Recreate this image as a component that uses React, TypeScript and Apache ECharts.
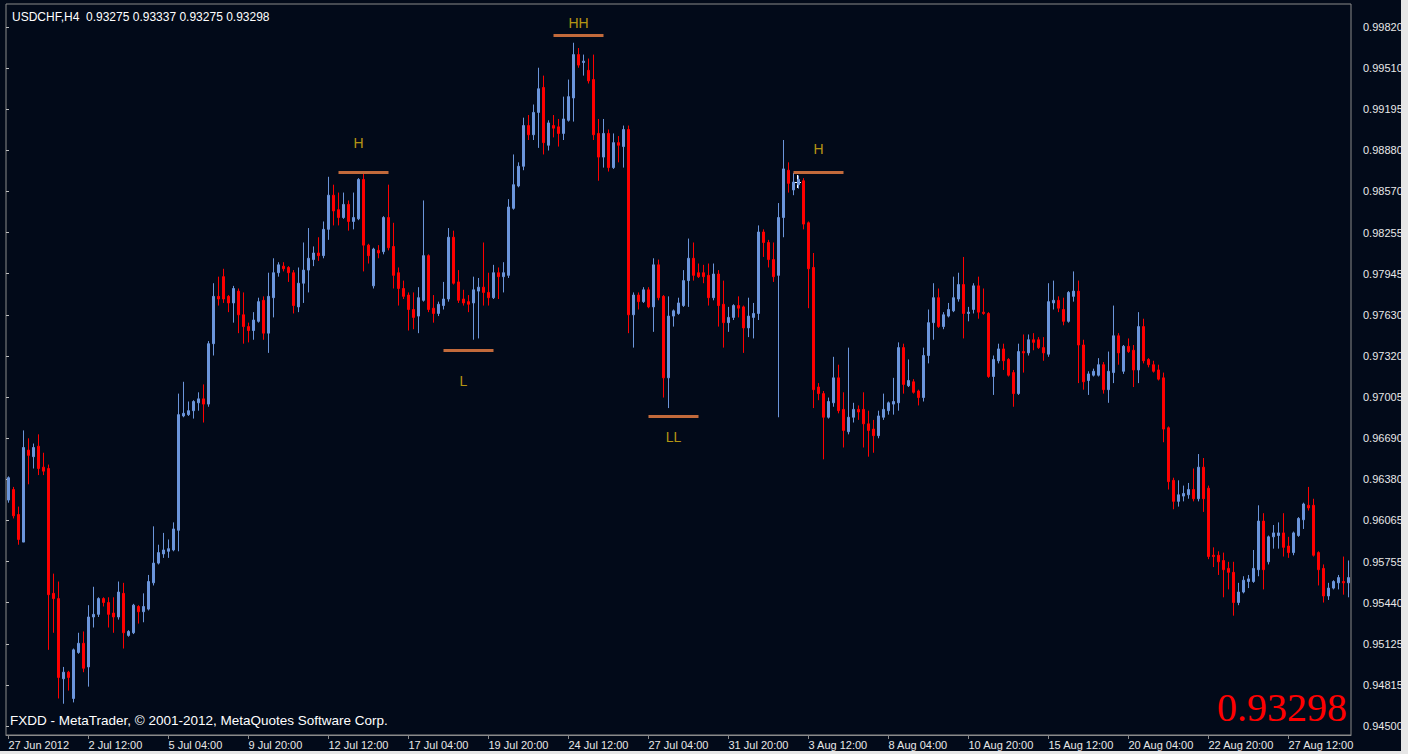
import React, { useEffect, useRef } from "react";
import * as echarts from "echarts";

// [open, close, low, high] per H4 candle, from 27 Jun 2012 20:00
const ohlc: number[][] = [
  [0.9622,0.9639,0.9620,0.9640],[0.9630,0.9610,0.9608,0.9632],[0.9611,0.9592,0.9588,0.9617],[0.9590,0.9662,0.9590,0.9675],
  [0.9660,0.9656,0.9634,0.9669],[0.9655,0.9662,0.9646,0.9665],[0.9663,0.9646,0.9641,0.9672],[0.9647,0.9644,0.9641,0.9658],
  [0.9646,0.9550,0.9508,0.9649],[0.9551,0.9547,0.9521,0.9566],[0.9547,0.9487,0.9471,0.9560],[0.9486,0.9491,0.9467,0.9495],
  [0.9491,0.9487,0.9477,0.9492],[0.9471,0.9508,0.9468,0.9509],[0.9506,0.9513,0.9505,0.9521],[0.9513,0.9494,0.9491,0.9522],
  [0.9495,0.9533,0.9480,0.9542],[0.9533,0.9535,0.9525,0.9556],[0.9535,0.9547,0.9533,0.9548],[0.9547,0.9544,0.9541,0.9548],
  [0.9544,0.9535,0.9525,0.9548],[0.9536,0.9533,0.9521,0.9548],[0.9533,0.9552,0.9531,0.9560],[0.9551,0.9521,0.9509,0.9559],
  [0.9519,0.9522,0.9518,0.9523],[0.9521,0.9542,0.9520,0.9543],[0.9541,0.9537,0.9528,0.9542],[0.9537,0.9541,0.9529,0.9551],
  [0.9539,0.9560,0.9538,0.9565],[0.9559,0.9574,0.9557,0.9602],[0.9574,0.9582,0.9573,0.9588],[0.9581,0.9584,0.9578,0.9597],
  [0.9583,0.9585,0.9578,0.9592],[0.9584,0.9600,0.9583,0.9605],[0.9599,0.9687,0.9583,0.9703],[0.9686,0.9688,0.9685,0.9712],
  [0.9687,0.9690,0.9686,0.9697],[0.9690,0.9697,0.9684,0.9698],[0.9696,0.9699,0.9690,0.9704],[0.9699,0.9695,0.9681,0.9710],
  [0.9695,0.9741,0.9693,0.9743],[0.9741,0.9777,0.9732,0.9787],[0.9777,0.9775,0.9770,0.9792],[0.9792,0.9775,0.9772,0.9798],
  [0.9777,0.9772,0.9765,0.9778],[0.9772,0.9783,0.9757,0.9785],[0.9781,0.9763,0.9749,0.9783],[0.9763,0.9754,0.9741,0.9780],
  [0.9754,0.9751,0.9742,0.9757],[0.9751,0.9759,0.9744,0.9765],[0.9758,0.9773,0.9757,0.9776],[0.9774,0.9749,0.9744,0.9777],
  [0.9749,0.9777,0.9734,0.9795],[0.9776,0.9795,0.9761,0.9806],[0.9795,0.9801,0.9792,0.9803],[0.9800,0.9798,0.9796,0.9803],
  [0.9799,0.9795,0.9788,0.9800],[0.9795,0.9770,0.9764,0.9797],[0.9769,0.9787,0.9765,0.9799],[0.9787,0.9797,0.9772,0.9818],
  [0.9797,0.9806,0.9780,0.9829],[0.9805,0.9810,0.9800,0.9815],[0.9810,0.9808,0.9804,0.9822],[0.9808,0.9828,0.9806,0.9834],
  [0.9828,0.9854,0.9820,0.9868],[0.9854,0.9842,0.9831,0.9862],[0.9843,0.9837,0.9831,0.9856],[0.9837,0.9847,0.9836,0.9856],
  [0.9847,0.9834,0.9827,0.9850],[0.9834,0.9837,0.9828,0.9856],[0.9836,0.9866,0.9835,0.9867],[0.9866,0.9816,0.9796,0.9871],
  [0.9816,0.9808,0.9802,0.9817],[0.9785,0.9813,0.9783,0.9814],[0.9812,0.9810,0.9806,0.9816],[0.9811,0.9837,0.9809,0.9838],
  [0.9837,0.9814,0.9812,0.9862],[0.9815,0.9793,0.9783,0.9833],[0.9795,0.9783,0.9770,0.9799],[0.9783,0.9777,0.9775,0.9789],
  [0.9778,0.9767,0.9751,0.9780],[0.9767,0.9761,0.9752,0.9780],[0.9762,0.9776,0.9749,0.9784],[0.9774,0.9808,0.9773,0.9850],
  [0.9808,0.9767,0.9765,0.9809],[0.9768,0.9764,0.9757,0.9778],[0.9764,0.9771,0.9762,0.9773],[0.9770,0.9775,0.9767,0.9788],
  [0.9775,0.9822,0.9773,0.9829],[0.9822,0.9787,0.9786,0.9827],[0.9788,0.9774,0.9772,0.9797],[0.9775,0.9772,0.9770,0.9782],
  [0.9773,0.9771,0.9765,0.9778],[0.9772,0.9782,0.9744,0.9792],[0.9781,0.9784,0.9745,0.9791],[0.9784,0.9780,0.9770,0.9818],
  [0.9780,0.9776,0.9770,0.9795],[0.9776,0.9795,0.9775,0.9801],[0.9795,0.9792,0.9775,0.9799],[0.9792,0.9795,0.9780,0.9803],
  [0.9793,0.9845,0.9791,0.9851],[0.9844,0.9862,0.9843,0.9885],[0.9861,0.9876,0.9860,0.9879],[0.9876,0.9907,0.9873,0.9913],
  [0.9907,0.9900,0.9896,0.9915],[0.9900,0.9917,0.9896,0.9923],[0.9917,0.9935,0.9890,0.9951],[0.9936,0.9894,0.9885,0.9945],
  [0.9892,0.9909,0.9888,0.9911],[0.9907,0.9905,0.9898,0.9915],[0.9906,0.9901,0.9891,0.9912],[0.9901,0.9912,0.9896,0.9929],
  [0.9911,0.9929,0.9910,0.9942],[0.9928,0.9961,0.9910,0.9970],[0.9961,0.9953,0.9951,0.9966],[0.9955,0.9956,0.9945,0.9961],
  [0.9949,0.9941,0.9939,0.9958],[0.9942,0.9900,0.9896,0.9961],[0.9901,0.9883,0.9865,0.9912],[0.9883,0.9901,0.9875,0.9912],
  [0.9901,0.9875,0.9872,0.9904],[0.9875,0.9894,0.9874,0.9901],[0.9894,0.9892,0.9879,0.9899],[0.9891,0.9904,0.9875,0.9907],
  [0.9904,0.9763,0.9749,0.9907],[0.9763,0.9778,0.9738,0.9780],[0.9778,0.9773,0.9767,0.9780],[0.9773,0.9782,0.9772,0.9784],
  [0.9782,0.9769,0.9768,0.9784],[0.9769,0.9801,0.9750,0.9806],[0.9801,0.9776,0.9774,0.9805],[0.9777,0.9715,0.9700,0.9778],
  [0.9715,0.9762,0.9692,0.9777],[0.9762,0.9766,0.9754,0.9767],[0.9764,0.9772,0.9763,0.9776],[0.9770,0.9789,0.9769,0.9797],
  [0.9789,0.9806,0.9769,0.9821],[0.9806,0.9793,0.9789,0.9818],[0.9795,0.9792,0.9791,0.9802],[0.9795,0.9792,0.9787,0.9801],
  [0.9793,0.9776,0.9770,0.9802],[0.9776,0.9794,0.9774,0.9802],[0.9794,0.9770,0.9754,0.9797],[0.9771,0.9757,0.9738,0.9789],
  [0.9757,0.9761,0.9750,0.9769],[0.9761,0.9770,0.9759,0.9771],[0.9770,0.9768,0.9761,0.9777],[0.9769,0.9753,0.9734,0.9770],
  [0.9753,0.9762,0.9746,0.9776],[0.9761,0.9764,0.9745,0.9772],[0.9764,0.9826,0.9759,0.9831],[0.9826,0.9818,0.9807,0.9828],
  [0.9818,0.9805,0.9799,0.9820],[0.9805,0.9792,0.9788,0.9818],[0.9793,0.9837,0.9685,0.9848],[0.9837,0.9874,0.9822,0.9896],
  [0.9873,0.9863,0.9856,0.9879],[0.9858,0.9864,0.9854,0.9871],[0.9862,0.9866,0.9859,0.9869],[0.9865,0.9832,0.9828,0.9867],
  [0.9833,0.9798,0.9768,0.9834],[0.9799,0.9706,0.9692,0.9810],[0.9708,0.9703,0.9698,0.9711],[0.9703,0.9685,0.9653,0.9705],
  [0.9685,0.9697,0.9684,0.9700],[0.9696,0.9715,0.9693,0.9731],[0.9715,0.9690,0.9688,0.9725],[0.9691,0.9675,0.9662,0.9704],
  [0.9674,0.9685,0.9672,0.9738],[0.9685,0.9691,0.9681,0.9696],[0.9691,0.9689,0.9683,0.9694],[0.9691,0.9680,0.9662,0.9704],
  [0.9680,0.9675,0.9655,0.9690],[0.9676,0.9671,0.9658,0.9683],[0.9671,0.9686,0.9669,0.9690],[0.9685,0.9691,0.9683,0.9703],
  [0.9690,0.9696,0.9687,0.9697],[0.9695,0.9697,0.9687,0.9715],[0.9696,0.9738,0.9690,0.9742],[0.9738,0.9710,0.9703,0.9741],
  [0.9709,0.9713,0.9708,0.9729],[0.9712,0.9704,0.9703,0.9714],[0.9705,0.9700,0.9694,0.9706],[0.9700,0.9732,0.9697,0.9738],
  [0.9732,0.9757,0.9726,0.9767],[0.9757,0.9776,0.9744,0.9787],[0.9776,0.9754,0.9753,0.9783],[0.9754,0.9763,0.9752,0.9765],
  [0.9762,0.9767,0.9761,0.9772],[0.9766,0.9776,0.9765,0.9792],[0.9775,0.9786,0.9773,0.9795],[0.9786,0.9764,0.9745,0.9807],
  [0.9764,0.9765,0.9758,0.9769],[0.9767,0.9785,0.9764,0.9787],[0.9785,0.9765,0.9760,0.9792],[0.9765,0.9764,0.9763,0.9783],
  [0.9764,0.9716,0.9715,0.9765],[0.9716,0.9729,0.9702,0.9732],[0.9728,0.9737,0.9726,0.9741],[0.9737,0.9728,0.9721,0.9741],
  [0.9729,0.9717,0.9716,0.9730],[0.9719,0.9703,0.9693,0.9721],[0.9703,0.9735,0.9702,0.9741],[0.9735,0.9734,0.9719,0.9748],
  [0.9734,0.9744,0.9732,0.9748],[0.9744,0.9742,0.9736,0.9749],[0.9744,0.9738,0.9737,0.9746],[0.9738,0.9734,0.9728,0.9746],
  [0.9733,0.9773,0.9731,0.9787],[0.9772,0.9774,0.9767,0.9789],[0.9774,0.9768,0.9765,0.9777],[0.9767,0.9758,0.9755,0.9776],
  [0.9758,0.9780,0.9757,0.9781],[0.9777,0.9781,0.9773,0.9796],[0.9781,0.9740,0.9711,0.9789],[0.9740,0.9712,0.9706,0.9744],
  [0.9713,0.9718,0.9702,0.9720],[0.9717,0.9720,0.9716,0.9722],[0.9717,0.9725,0.9716,0.9730],[0.9725,0.9706,0.9703,0.9727],
  [0.9706,0.9720,0.9696,0.9735],[0.9719,0.9747,0.9711,0.9770],[0.9747,0.9734,0.9725,0.9749],[0.9720,0.9739,0.9718,0.9740],
  [0.9739,0.9735,0.9734,0.9745],[0.9736,0.9721,0.9708,0.9740],[0.9721,0.9754,0.9711,0.9765],[0.9754,0.9728,0.9726,0.9760],
  [0.9729,0.9725,0.9723,0.9730],[0.9725,0.9720,0.9719,0.9728],[0.9721,0.9714,0.9713,0.9725],[0.9715,0.9676,0.9666,0.9719],
  [0.9677,0.9636,0.9630,0.9678],[0.9637,0.9621,0.9615,0.9639],[0.9621,0.9626,0.9617,0.9637],[0.9625,0.9627,0.9621,0.9633],
  [0.9626,0.9630,0.9623,0.9635],[0.9630,0.9623,0.9621,0.9646],[0.9623,0.9647,0.9621,0.9657],[0.9647,0.9623,0.9613,0.9654],
  [0.9631,0.9579,0.9577,0.9633],[0.9580,0.9579,0.9571,0.9586],[0.9580,0.9575,0.9565,0.9583],[0.9576,0.9569,0.9548,0.9582],
  [0.9570,0.9567,0.9554,0.9575],[0.9567,0.9544,0.9534,0.9575],[0.9544,0.9552,0.9542,0.9559],[0.9552,0.9561,0.9551,0.9564],
  [0.9560,0.9562,0.9555,0.9565],[0.9560,0.9570,0.9559,0.9584],[0.9569,0.9606,0.9564,0.9618],[0.9606,0.9569,0.9554,0.9612],
  [0.9575,0.9594,0.9573,0.9595],[0.9594,0.9597,0.9585,0.9603],[0.9595,0.9597,0.9585,0.9605],[0.9597,0.9586,0.9579,0.9612],
  [0.9587,0.9582,0.9578,0.9594],[0.9582,0.9597,0.9580,0.9598],[0.9595,0.9608,0.9594,0.9609],[0.9607,0.9619,0.9600,0.9620],
  [0.9618,0.9616,0.9614,0.9632],[0.9618,0.9580,0.9579,0.9623],[0.9582,0.9569,0.9557,0.9583],[0.9570,0.9549,0.9544,0.9573],
  [0.9549,0.9555,0.9546,0.9559],[0.9555,0.9560,0.9554,0.9561],[0.9559,0.9563,0.9554,0.9565],[0.9560,0.9559,0.9550,0.9579],
  [0.9559,0.9563,0.9548,0.9576],
];

const xLabels = [
  "27 Jun 2012", "2 Jul 12:00", "5 Jul 04:00", "9 Jul 20:00", "12 Jul 12:00", "17 Jul 04:00",
  "19 Jul 20:00", "24 Jul 12:00", "27 Jul 04:00", "31 Jul 20:00", "3 Aug 12:00", "8 Aug 04:00",
  "10 Aug 20:00", "15 Aug 12:00", "20 Aug 04:00", "22 Aug 20:00", "27 Aug 12:00",
];

const yLabels = [
  "0.94500", "0.94815", "0.95125", "0.95440", "0.95755", "0.96065", "0.96380", "0.96690", "0.97005",
  "0.97320", "0.97630", "0.97945", "0.98255", "0.98570", "0.98880", "0.99195", "0.99510", "0.99820",
];

// swing markers: label, start bar, end bar, level price, label bar, label price
const markerNames = ["H", "L", "HH", "LL", "H"];
const markerFrom = [66, 87, 109, 128, 157];
const markerTo = [76, 97, 119, 138, 167];
const markerLevel = [0.98716, 0.97362, 0.99759, 0.96859, 0.98716];
const markerLabelBar = [70, 91, 114, 133, 162];
const markerLabelPrice = [0.98937, 0.97126, 0.9985, 0.96699, 0.98892];

const headerText = "USDCHF,H4  0.93275 0.93337 0.93275 0.93298";
const footerText = "FXDD - MetaTrader, \u00A9 2001-2012, MetaQuotes Software Corp.";
const bigPrice = "0.93298";

const BG = "#020a19";
const BULL = "#6b95db";
const BEAR = "#ff0000";
const FRAME = "#8a8a8a";

function buildTimes(n: number): string[] {
  const out: string[] = [];
  let t = Date.UTC(2012, 5, 27, 20);
  while (out.length < n) {
    const d = new Date(t);
    const wd = d.getUTCDay();
    if (wd !== 0 && wd !== 6) {
      out.push(
        `${d.getUTCFullYear()}-${String(d.getUTCMonth() + 1).padStart(2, "0")}-${String(d.getUTCDate()).padStart(2, "0")} ${String(d.getUTCHours()).padStart(2, "0")}:00`
      );
    }
    t += 4 * 3600 * 1000;
  }
  return out;
}

export default function App() {
  const ref = useRef<HTMLDivElement>(null);
  useEffect(() => {
    if (!ref.current) return;
    const chart = echarts.init(ref.current, undefined, { renderer: "svg" });
    const times = buildTimes(ohlc.length);
    const font = "Liberation Sans";
    const option: any = {
      animation: false,
      backgroundColor: BG,
      grid: [
        { left: 6, right: 57, top: 4, bottom: 19, show: true, borderColor: FRAME, borderWidth: 1, backgroundColor: "transparent" },
        { left: 6, right: 57, top: 27, bottom: 28 },
      ],
      xAxis: [
        {
          type: "category",
          gridIndex: 0,
          data: times,
          boundaryGap: true,
          axisLine: { show: true, lineStyle: { color: FRAME } },
          axisTick: { show: true, interval: 15, alignWithLabel: true, length: 4, lineStyle: { color: FRAME } },
          axisLabel: {
            interval: 15,
            formatter: (_v: string, i: number) => xLabels[Math.round(i / 16)] ?? "",
            color: "#e8e8e8",
            fontSize: 11,
            fontFamily: font,
            align: "left",
            margin: 4,
          },
          splitLine: { show: false },
        },
        { type: "value", gridIndex: 1, show: false, min: 0, max: 1 },
      ],
      yAxis: [
        { type: "value", gridIndex: 0, min: 0.94432, max: 0.99995, show: false, scale: true },
        {
          type: "category",
          gridIndex: 1,
          data: yLabels,
          boundaryGap: false,
          position: "right",
          offset: 9,
          axisLine: { show: false },
          axisTick: { show: true, length: 3, lineStyle: { color: "#bdbdbd" } },
          axisLabel: { interval: 0, color: "#e8e8e8", fontSize: 11, fontFamily: font, margin: 3 },
          splitLine: { show: false },
        },
      ],
      series: [
        {
          type: "candlestick",
          xAxisIndex: 0,
          yAxisIndex: 0,
          data: ohlc,
          barWidth: 2.5,
          itemStyle: { color: BULL, color0: BEAR, borderColor: BULL, borderColor0: BEAR, borderWidth: 1 },
          markLine: {
            silent: true,
            symbol: ["none", "none"],
            label: { show: false },
            lineStyle: { color: "#c26a3b", width: 3, type: "solid" },
            data: markerNames.map((_, k) => [
              { coord: [markerFrom[k], markerLevel[k]] },
              { coord: [markerTo[k], markerLevel[k]] },
            ]),
          },
        },
        {
          type: "scatter",
          xAxisIndex: 0,
          yAxisIndex: 0,
          symbolSize: 1,
          itemStyle: { color: "rgba(0,0,0,0)" },
          silent: true,
          data: markerNames.map((n, k) => [markerLabelBar[k], markerLabelPrice[k], n]),
          label: {
            show: true,
            position: "inside",
            formatter: (p: any) => p.data[2],
            color: "#e3bc12",
            fontSize: 14,
            fontFamily: font,
          },
        },
      ],
      graphic: [
        {
          type: "text",
          x: 12,
          y: 17,
          style: { text: headerText, fill: "#ffffff", font: `12px "${font}"`, textVerticalAlign: "middle", verticalAlign: "middle" },
        },
        {
          type: "text",
          x: 10,
          y: 720,
          style: { text: footerText, fill: "#ffffff", font: `13.5px "${font}"`, textVerticalAlign: "middle", verticalAlign: "middle" },
        },
        {
          type: "text",
          x: 1347,
          y: 707,
          style: {
            text: bigPrice,
            fill: "#ff0000",
            font: '40px "Liberation Serif"',
            textAlign: "right",
            align: "right",
            textVerticalAlign: "middle",
            verticalAlign: "middle",
          },
        },
        { type: "line", shape: { x1: 797.5, y1: 175, x2: 797.5, y2: 188 }, style: { stroke: "#ffffff", lineWidth: 1 } },
        { type: "line", shape: { x1: 794, y1: 182.5, x2: 801, y2: 182.5 }, style: { stroke: "#ffffff", lineWidth: 1 } },
        { type: "rect", shape: { x: 1401, y: 0, width: 7, height: 754 }, style: { fill: "#e6e6e6" } },
        { type: "rect", shape: { x: 0, y: 751, width: 1408, height: 3 }, style: { fill: "#e6e6e6" } },
      ],
    };
    chart.setOption(option);
    return () => chart.dispose();
  }, []);
  return (
    <div
      ref={ref}
      style={{ position: "fixed", left: 0, top: 0, width: 1408, height: 754, background: BG }}
    />
  );
}
